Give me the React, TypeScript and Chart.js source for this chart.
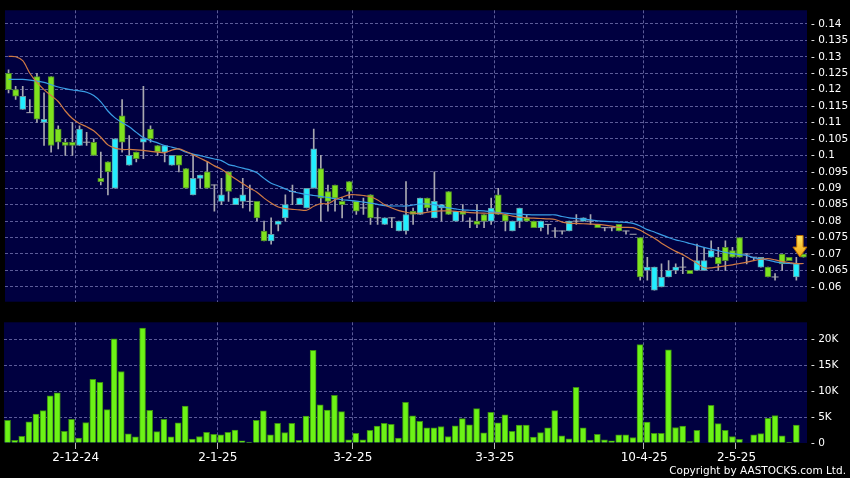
import React, { useEffect, useRef } from 'react';
import { Chart, registerables } from 'chart.js';

Chart.register(...registerables);

// ---------- data ----------
const TICK_INDEX = [10, 30, 49, 69, 90, 103];
const TICK_LABELS = ['2-12-24', '2-1-25', '3-2-25', '3-3-25', '10-4-25', '2-5-25'];

const OPEN = [
  0.125, 0.120, 0.114, 0.113, 0.124, 0.110, 0.124, 0.108, 0.104, 0.104,
  0.103, 0.104, 0.104, 0.093, 0.098, 0.090, 0.112, 0.097, 0.101, 0.104,
  0.108, 0.103, 0.101, 0.097, 0.100, 0.096, 0.088, 0.093, 0.095, 0.091,
  0.086, 0.095, 0.085, 0.086, 0.086, 0.086, 0.077, 0.074, 0.079, 0.081,
  0.089, 0.085, 0.084, 0.090, 0.096, 0.089, 0.091, 0.086, 0.092, 0.086,
  0.084, 0.088, 0.081, 0.079, 0.081, 0.077, 0.077, 0.083, 0.082, 0.087,
  0.081, 0.084, 0.089, 0.080, 0.083, 0.080, 0.080, 0.082, 0.080, 0.088,
  0.082, 0.077, 0.080, 0.081, 0.080, 0.078, 0.079, 0.077, 0.077, 0.077,
  0.080, 0.080, 0.080, 0.079, 0.078, 0.078, 0.079, 0.077, 0.076, 0.075,
  0.065, 0.059, 0.060, 0.063, 0.065, 0.066, 0.065, 0.065, 0.065, 0.069,
  0.069, 0.072, 0.071, 0.075, 0.070, 0.069, 0.066, 0.066, 0.063, 0.070,
  0.069, 0.063, 0.070,
];
const CLOSE = [
  0.120, 0.118, 0.118, 0.113, 0.111, 0.111, 0.103, 0.104, 0.103, 0.103,
  0.108, 0.104, 0.100, 0.092, 0.095, 0.105, 0.104, 0.100, 0.099, 0.105,
  0.105, 0.101, 0.103, 0.100, 0.097, 0.090, 0.093, 0.094, 0.090, 0.091,
  0.088, 0.089, 0.087, 0.088, 0.086, 0.081, 0.074, 0.076, 0.080, 0.085,
  0.089, 0.087, 0.090, 0.102, 0.087, 0.086, 0.087, 0.085, 0.089, 0.083,
  0.084, 0.081, 0.081, 0.081, 0.081, 0.080, 0.082, 0.082, 0.087, 0.084,
  0.086, 0.085, 0.082, 0.083, 0.082, 0.080, 0.079, 0.080, 0.084, 0.082,
  0.080, 0.080, 0.084, 0.080, 0.078, 0.080, 0.079, 0.077, 0.077, 0.080,
  0.080, 0.081, 0.080, 0.078, 0.078, 0.078, 0.077, 0.077, 0.076, 0.063,
  0.066, 0.066, 0.063, 0.065, 0.066, 0.066, 0.064, 0.068, 0.068, 0.071,
  0.067, 0.068, 0.069, 0.069, 0.070, 0.069, 0.069, 0.063, 0.063, 0.067,
  0.068, 0.067, 0.069,
];
const HIGH = [
  0.126, 0.121, 0.121, 0.117, 0.125, 0.119, 0.124, 0.109, 0.105, 0.110,
  0.109, 0.107, 0.105, 0.101, 0.098, 0.105, 0.117, 0.106, 0.101, 0.121,
  0.109, 0.103, 0.103, 0.100, 0.100, 0.096, 0.100, 0.094, 0.098, 0.091,
  0.093, 0.095, 0.087, 0.093, 0.091, 0.086, 0.080, 0.081, 0.080, 0.088,
  0.091, 0.087, 0.090, 0.108, 0.100, 0.091, 0.091, 0.087, 0.092, 0.086,
  0.087, 0.088, 0.084, 0.081, 0.081, 0.080, 0.092, 0.084, 0.087, 0.087,
  0.095, 0.085, 0.089, 0.083, 0.085, 0.081, 0.085, 0.082, 0.087, 0.090,
  0.082, 0.080, 0.084, 0.082, 0.080, 0.080, 0.079, 0.078, 0.077, 0.080,
  0.082, 0.081, 0.082, 0.079, 0.078, 0.078, 0.079, 0.077, 0.076, 0.075,
  0.069, 0.066, 0.067, 0.068, 0.067, 0.069, 0.065, 0.073, 0.072, 0.074,
  0.072, 0.074, 0.072, 0.075, 0.070, 0.069, 0.069, 0.066, 0.064, 0.070,
  0.069, 0.069, 0.070,
];
const LOW = [
  0.119, 0.117, 0.114, 0.113, 0.110, 0.103, 0.101, 0.102, 0.100, 0.100,
  0.103, 0.103, 0.100, 0.091, 0.088, 0.090, 0.101, 0.097, 0.098, 0.099,
  0.104, 0.100, 0.098, 0.097, 0.095, 0.090, 0.088, 0.090, 0.090, 0.083,
  0.085, 0.086, 0.085, 0.084, 0.083, 0.080, 0.074, 0.073, 0.077, 0.080,
  0.085, 0.085, 0.084, 0.090, 0.080, 0.083, 0.083, 0.081, 0.087, 0.082,
  0.082, 0.079, 0.079, 0.079, 0.078, 0.077, 0.076, 0.079, 0.082, 0.083,
  0.081, 0.080, 0.082, 0.080, 0.080, 0.078, 0.078, 0.078, 0.079, 0.082,
  0.077, 0.077, 0.078, 0.080, 0.078, 0.077, 0.076, 0.075, 0.076, 0.077,
  0.079, 0.080, 0.079, 0.078, 0.077, 0.077, 0.077, 0.076, 0.076, 0.062,
  0.062, 0.059, 0.060, 0.063, 0.064, 0.064, 0.064, 0.065, 0.065, 0.069,
  0.065, 0.065, 0.069, 0.069, 0.067, 0.068, 0.066, 0.063, 0.062, 0.065,
  0.068, 0.062, 0.069,
];
const MA_SHORT = [
  0.1301, 0.1300, 0.1288, 0.1250, 0.1222, 0.1200, 0.1182, 0.1164, 0.1135, 0.1112,
  0.1097, 0.1087, 0.1075, 0.1055, 0.1032, 0.1022, 0.1018, 0.1018, 0.1017, 0.1015,
  0.1012, 0.1010, 0.1008, 0.1016, 0.1020, 0.1012, 0.1002, 0.0991, 0.0981, 0.0968,
  0.0958, 0.0943, 0.0928, 0.0914, 0.0900, 0.0888, 0.0870, 0.0855, 0.0843, 0.0838,
  0.0836, 0.0834, 0.0833, 0.0845, 0.0853, 0.0853, 0.0865, 0.0873, 0.0880, 0.0880,
  0.0878, 0.0874, 0.0864, 0.0850, 0.0840, 0.0832, 0.0827, 0.0824, 0.0824, 0.0827,
  0.0830, 0.0831, 0.0831, 0.0830, 0.0828, 0.0826, 0.0825, 0.0824, 0.0824, 0.0824,
  0.0820, 0.0815, 0.0812, 0.0810, 0.0809, 0.0808, 0.0807, 0.0805, 0.0797, 0.0794,
  0.0793, 0.0792, 0.0791, 0.0790, 0.0788, 0.0785, 0.0781, 0.0781, 0.0780, 0.0772,
  0.0760, 0.0748, 0.0733, 0.0720, 0.0708, 0.0698, 0.0685, 0.0672, 0.0658, 0.0658,
  0.0661, 0.0664, 0.0667, 0.0671, 0.0675, 0.0680, 0.0684, 0.0686, 0.0682, 0.0677,
  0.0674, 0.0671, 0.0671,
];
const MA_LONG = [
  0.1231, 0.1231, 0.1231, 0.1229, 0.1226, 0.1222, 0.1215, 0.1208, 0.1203, 0.1199,
  0.1196, 0.1192, 0.1182, 0.1163, 0.1135, 0.1114, 0.1100, 0.1087, 0.1070, 0.1054,
  0.1045, 0.1038, 0.1030, 0.1025, 0.1019, 0.1010, 0.1004, 0.0999, 0.0994, 0.0989,
  0.0984, 0.0972, 0.0967, 0.0961, 0.0956, 0.0947, 0.0930, 0.0915, 0.0907, 0.0898,
  0.0890, 0.0885, 0.0881, 0.0878, 0.0875, 0.0872, 0.0868, 0.0865, 0.0863, 0.0861,
  0.0858, 0.0855, 0.0851, 0.0847, 0.0846, 0.0846, 0.0846, 0.0849, 0.0852, 0.0852,
  0.0850, 0.0845, 0.0840, 0.0837, 0.0834, 0.0833, 0.0832, 0.0831, 0.0828, 0.0826,
  0.0824, 0.0822, 0.0821, 0.0820, 0.0819, 0.0819, 0.0819, 0.0819, 0.0814, 0.0810,
  0.0808, 0.0806, 0.0804, 0.0801, 0.0799, 0.0798, 0.0797, 0.0796, 0.0793, 0.0785,
  0.0774, 0.0767, 0.0758, 0.0750, 0.0743, 0.0738, 0.0732, 0.0726, 0.0720, 0.0715,
  0.0710, 0.0705, 0.0701, 0.0698, 0.0696, 0.0688, 0.0685, 0.0681, 0.0676, 0.0673,
  0.0671, 0.0671, 0.0671,
];
const VOLUME = [
  4400, 500, 1300, 4100, 5560, 6250, 9100, 9700, 2250, 4560,
  940, 3940, 12300, 11700, 6440, 20100, 13800, 1750, 1190, 22200,
  6300, 2190, 4560, 1190, 3875, 7125, 750, 1250, 2060, 1690,
  1560, 2060, 2500, 440, 190, 4375, 6190, 1560, 3810, 2000,
  3810, 500, 5190, 17900, 7375, 6375, 9190, 6060, 625, 1875,
  625, 2440, 3250, 3810, 3625, 940, 7875, 5250, 4190, 2940,
  2940, 3190, 1250, 3310, 4690, 3500, 6625, 1940, 5940, 3875,
  5440, 2250, 3440, 3440, 1125, 2000, 2940, 6250, 1375, 810,
  10750, 2940, 560, 1690, 625, 440, 1560, 1560, 1060, 19000,
  4060, 1875, 1875, 18000, 3000, 3250, 250, 2440, 0, 7250,
  3750, 2440, 1250, 690, 0, 1560, 1810, 4750, 5310, 1375,
  190, 3440, 0,
];

const PRICE_MIN = 0.05548;
const PRICE_MAX = 0.14414;
const PRICE_STEP = 0.005;
const VOL_MAX = 23300;
const VOL_TICKS = [0, 5000, 10000, 15000, 20000];

const ARROW_AT = 111;
const ARROW_TOP = 0.0756;
const ARROW_NECK = 0.0721;
const ARROW_TIP = 0.0691;

// ---------- styles ----------
const PLOT_BG = '#000040';
const GRID = 'rgba(115,115,175,0.8)';
const WICK = '#a8a8b0';
const UP_FILL = '#22eeff';
const UP_EDGE = '#6a9aa6';
const DOWN_FILL = '#7ee21e';
const DOWN_EDGE = '#4f8a2a';
const VOL_FILL = '#6cf316';
const VOL_EDGE = '#3b8c12';
const MA_SHORT_COLOR = '#cf7a44';
const MA_LONG_COLOR = '#3a9ee6';
const FONT = 'DejaVu Sans';

const N = OPEN.length;
const LABELS = Array.from({ length: N }, (_, i) => {
  const k = TICK_INDEX.indexOf(i);
  return k >= 0 ? TICK_LABELS[k] : '';
});
const isTick = (i: number) => TICK_INDEX.includes(i);

const plotBg = {
  id: 'plotBg',
  beforeDraw(chart: any) {
    const { ctx, chartArea: a } = chart;
    ctx.save();
    ctx.fillStyle = PLOT_BG;
    ctx.fillRect(a.left, a.top, a.right - a.left, a.bottom - a.top);
    ctx.restore();
  },
};

const arrowPlugin = {
  id: 'arrow',
  afterDatasetsDraw(chart: any) {
    const xs = chart.scales.x;
    const ys = chart.scales.y;
    const x = (xs.getPixelForValue(ARROW_AT) + xs.getPixelForValue(ARROW_AT + 1)) / 2;
    const yTop = ys.getPixelForValue(ARROW_TOP);
    const yNeck = ys.getPixelForValue(ARROW_NECK);
    const yTip = ys.getPixelForValue(ARROW_TIP);
    const ctx = chart.ctx;
    ctx.save();
    const g = ctx.createLinearGradient(0, yTop, 0, yTip);
    g.addColorStop(0, '#ffe860');
    g.addColorStop(1, '#f2a010');
    ctx.beginPath();
    ctx.moveTo(x - 3.2, yTop);
    ctx.lineTo(x + 3.2, yTop);
    ctx.lineTo(x + 3.2, yNeck);
    ctx.lineTo(x + 7, yNeck);
    ctx.lineTo(x, yTip);
    ctx.lineTo(x - 7, yNeck);
    ctx.lineTo(x - 3.2, yNeck);
    ctx.closePath();
    ctx.fillStyle = g;
    ctx.fill();
    ctx.strokeStyle = '#b86a00';
    ctx.lineWidth = 1;
    ctx.stroke();
    ctx.restore();
  },
};

function priceLabel(v: number) {
  return '- ' + String(Number(v.toFixed(3)));
}
function volLabel(v: number) {
  return v === 0 ? '- 0' : '- ' + v / 1000 + 'K';
}

export default function App() {
  const topRef = useRef<HTMLCanvasElement | null>(null);
  const botRef = useRef<HTMLCanvasElement | null>(null);

  useEffect(() => {
    document.body.style.margin = '0';
    document.body.style.background = '#000';

    const bodyColor = OPEN.map((o, i) => (CLOSE[i] > o ? UP_FILL : DOWN_FILL));
    const edgeColor = OPEN.map((o, i) => (CLOSE[i] > o ? UP_EDGE : DOWN_EDGE));

    const top = new Chart(topRef.current as HTMLCanvasElement, {
      type: 'bar',
      data: {
        labels: LABELS,
        datasets: [
          {
            type: 'bar',
            data: HIGH.map((h, i) => (h > LOW[i] ? [LOW[i], h] : null)) as any,
            backgroundColor: WICK,
            barThickness: 1,
            grouped: false,
            order: 5,
          } as any,
          {
            type: 'bar',
            data: OPEN.map((o, i) => (o !== CLOSE[i] ? [Math.min(o, CLOSE[i]), Math.max(o, CLOSE[i])] : null)) as any,
            backgroundColor: bodyColor,
            borderColor: edgeColor,
            borderWidth: 1,
            borderSkipped: false,
            barThickness: 6,
            grouped: false,
            order: 4,
          } as any,
          {
            type: 'line',
            data: OPEN.map((o, i) => (o === CLOSE[i] ? o : null)),
            showLine: false,
            pointStyle: 'line',
            pointRadius: 3.5,
            pointBorderColor: WICK,
            pointBorderWidth: 1,
            borderColor: WICK,
            order: 3,
          } as any,
          {
            type: 'line',
            data: MA_SHORT,
            borderColor: MA_SHORT_COLOR,
            borderWidth: 1.2,
            pointRadius: 0,
            tension: 0.3,
            order: 1,
          } as any,
          {
            type: 'line',
            data: MA_LONG,
            borderColor: MA_LONG_COLOR,
            borderWidth: 1.2,
            pointRadius: 0,
            tension: 0.3,
            order: 2,
          } as any,
        ],
      },
      options: {
        animation: false,
        responsive: false,
        devicePixelRatio: 1,
        events: [],
        layout: { padding: { left: 4, top: 6, right: 0, bottom: 6 } },
        plugins: { legend: { display: false }, tooltip: { enabled: false } },
        scales: {
          x: {
            type: 'category',
            offset: true,
            grid: {
              offset: true,
              drawTicks: false,
              color: (c: any) => (isTick(c.index) ? GRID : 'transparent'),
            },
            border: { display: false, dash: [3, 2] },
            ticks: { display: false, autoSkip: false },
            afterFit: (s: any) => {
              s.height = 0;
            },
          },
          y: {
            position: 'right',
            min: PRICE_MIN,
            max: PRICE_MAX,
            grid: { color: GRID, drawTicks: false },
            border: { display: false, dash: [3, 2] },
            ticks: {
              stepSize: PRICE_STEP,
              includeBounds: false,
              color: '#ffffff',
              padding: 4,
              font: { family: FONT, size: 10.5 },
              callback: (v: any) => priceLabel(Number(v)),
            },
            afterFit: (s: any) => {
              s.width = 43;
            },
          },
        },
      } as any,
      plugins: [plotBg, arrowPlugin],
    });

    const bot = new Chart(botRef.current as HTMLCanvasElement, {
      type: 'bar',
      data: {
        labels: LABELS,
        datasets: [
          {
            data: VOLUME,
            backgroundColor: VOL_FILL,
            borderColor: VOL_EDGE,
            borderWidth: 1,
            barThickness: 6,
          } as any,
        ],
      },
      options: {
        animation: false,
        responsive: false,
        devicePixelRatio: 1,
        events: [],
        layout: { padding: { left: 4, top: 7, right: 0, bottom: 0 } },
        plugins: { legend: { display: false }, tooltip: { enabled: false } },
        scales: {
          x: {
            type: 'category',
            offset: true,
            grid: {
              offset: true,
              drawTicks: true,
              tickLength: 6,
              tickColor: (c: any) => (isTick(c.index) ? '#b8b8b8' : 'transparent'),
              color: (c: any) => (isTick(c.index) ? GRID : 'transparent'),
            },
            border: { display: false, dash: [3, 2] },
            ticks: {
              autoSkip: false,
              maxRotation: 0,
              color: '#ffffff',
              padding: 2,
              labelOffset: -3,
              font: { family: FONT, size: 12 },
            },
            afterFit: (s: any) => {
              s.height = 35;
            },
          },
          y: {
            position: 'right',
            min: 0,
            max: VOL_MAX,
            afterBuildTicks: (s: any) => {
              s.ticks = VOL_TICKS.map((v) => ({ value: v }));
            },
            grid: {
              color: (c: any) => (c.tick && c.tick.value === 0 ? 'transparent' : GRID),
              drawTicks: false,
            },
            border: { display: false, dash: [3, 2] },
            ticks: {
              color: '#ffffff',
              padding: 4,
              font: { family: FONT, size: 10.5 },
              callback: (v: any) => volLabel(Number(v)),
            },
            afterFit: (s: any) => {
              s.width = 43;
            },
          },
        },
      } as any,
      plugins: [plotBg],
    });

    return () => {
      top.destroy();
      bot.destroy();
    };
  }, []);

  return (
    <div style={{ position: 'relative', width: 850, height: 478, background: '#000', overflow: 'hidden' }}>
      <canvas ref={topRef} width={850} height={312} style={{ position: 'absolute', left: 0, top: 0, display: 'block' }} />
      <canvas ref={botRef} width={850} height={166} style={{ position: 'absolute', left: 0, top: 312, display: 'block' }} />
      <div
        style={{
          position: 'absolute',
          right: 4,
          top: 463,
          color: '#ffffff',
          fontFamily: FONT,
          fontSize: 10.5,
          lineHeight: '14px',
          whiteSpace: 'nowrap',
        }}
      >
        Copyright by AASTOCKS.com Ltd.
      </div>
    </div>
  );
}
